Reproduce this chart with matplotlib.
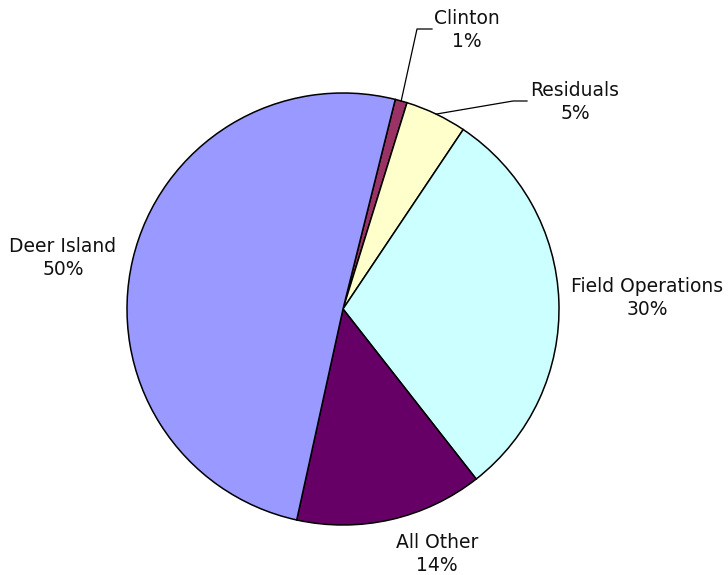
import numpy as np
import matplotlib
matplotlib.use("Agg")
import matplotlib.pyplot as plt

# budget share by area, drawn clockwise starting with Clinton
labels = ["Clinton", "Residuals", "Field Operations", "All Other", "Deer Island"]
values = [0.9, 4.6, 30.0, 14.0, 50.4]
colors = ["#993366", "#FFFFCC", "#CCFFFF", "#660066", "#9999FF"]

W, H = 728, 575
fig = plt.figure(figsize=(W / 100, H / 100), dpi=100)
ax = fig.add_axes([0, 0, 1, 1])

cx, cy, r = 343, H - 309, 216
wedges, _ = ax.pie(values, colors=colors, startangle=90 - 14, counterclock=False,
                   center=(cx, cy), radius=r, frame=True,
                   wedgeprops=dict(edgecolor="black", linewidth=1.1))
ax.set_xlim(0, W)
ax.set_ylim(0, H)
ax.axis("off")

total = sum(values)
pcts = [f"{v / total * 100:.0f}%" for v in values]


def edge_point(w):
    mid = np.deg2rad((w.theta1 + w.theta2) / 2)
    return cx + r * np.cos(mid), cy + r * np.sin(mid)


# label positions in pixels (x, y from top)
label_pos = {
    "Clinton": (467, 30),
    "Residuals": (575, 102),
    "Field Operations": (647, 298),
    "All Other": (437, 554),
    "Deer Island": (63, 258),
}
# leader lines for the two thin slices: elbow point and end of the horizontal run
leaders = {
    "Clinton": [(417, 29), (432, 29)],
    "Residuals": [(513, 101), (527, 101)],
}

for w, name, pct in zip(wedges, labels, pcts):
    lx, ly = label_pos[name]
    ax.text(lx, H - ly, f"{name}\n{pct}", ha="center", va="center",
            fontsize=13.5, family="DejaVu Sans", linespacing=1.3,
            color="#111111")
    if name in leaders:
        ex, ey = edge_point(w)
        pts = [(ex, ey)] + [(x, H - y) for x, y in leaders[name]]
        xs, ys = zip(*pts)
        ax.plot(xs, ys, color="black", linewidth=0.9)

fig.savefig("out.png", dpi=100)
